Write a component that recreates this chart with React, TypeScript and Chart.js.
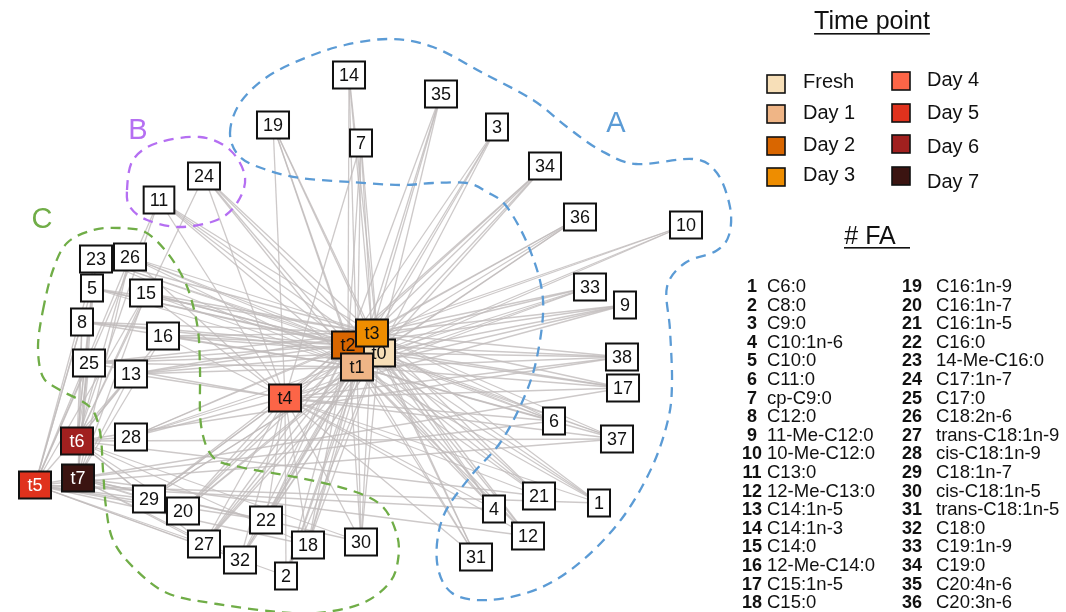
import React, { useEffect, useRef } from "react";
import { Chart, registerables } from "chart.js";

Chart.register(...registerables);

// ---- Fatty-acid nodes (label, layout x, layout y) ----
const faLabels = [
  "1", "2", "3", "4", "5", "6", "7", "8", "9", "10", "11", "12", "13", "14", "15", "16", "17", "18", "19",
  "20", "21", "22", "23", "24", "25", "26", "27", "28", "29", "30", "31", "32", "33", "34", "35", "36", "37", "38",
];
const faX = [
  599, 286, 497, 494, 92, 554, 361, 82, 625, 686, 159, 528, 131, 349, 146, 163, 623, 308, 273,
  183, 539, 266, 96, 204, 89, 130, 204, 131, 149, 361, 476, 240, 590, 545, 441, 580, 617, 622,
];
const faY = [
  503, 576, 127, 509, 288, 421, 143, 322, 305, 225, 200, 536, 374, 75, 293, 336, 388, 545, 125,
  511, 496, 520, 259, 176, 363, 257, 544, 437, 499, 542, 557, 560, 287, 166, 94, 217, 439, 357,
];

// ---- Time-point nodes ----
const timeLabels = ["t0", "t1", "t2", "t3", "t4", "t5", "t6", "t7"];
const timeX = [379, 357, 348, 372, 285, 35, 77, 78];
const timeY = [353, 367, 345, 333, 398, 485, 441, 478];
const timeColors = ["#f7dfb8", "#efb586", "#d96600", "#ee8d00", "#fc6547", "#e0321d", "#a1201f", "#3b1411"];
const timeTextColors = ["#111", "#111", "#111", "#111", "#111", "#fff", "#fff", "#fff"];
const timeDrawOrder = [4, 5, 6, 7, 0, 2, 1, 3];
const legendNames = ["Fresh", "Day 1", "Day 2", "Day 3", "Day 4", "Day 5", "Day 6", "Day 7"];

// ---- Links: time-point indices each fatty acid is connected to ----
const faLinks = [
  [0, 1, 2, 3, 4, 5], [0, 1, 2, 3, 4, 5], [0, 1, 2, 3], [0, 1, 2, 3, 4, 5], [0, 1, 2, 3, 5, 6, 7],
  [0, 1, 2, 3, 4, 7], [0, 1, 2, 3, 4], [0, 1, 2, 3, 5, 6, 7], [0, 1, 2, 3, 4], [0, 1, 2, 3],
  [0, 1, 2, 3, 4, 5, 6], [0, 1, 2, 3, 4, 7], [0, 1, 2, 3, 4, 5, 6, 7], [0, 1, 2, 3], [0, 1, 2, 3, 4, 5, 6, 7],
  [0, 1, 2, 3, 4, 6, 7], [0, 1, 2, 3, 4, 5], [0, 1, 2, 3, 4, 5, 6], [0, 1, 2, 3, 4], [0, 1, 2, 3, 4, 5, 6, 7],
  [0, 1, 2, 3, 4, 6], [0, 1, 2, 3, 4, 5, 7], [0, 1, 2, 3, 5, 6, 7], [0, 1, 2, 3, 4, 6], [0, 1, 2, 3, 4, 5, 6, 7],
  [0, 1, 2, 3, 4, 5, 6, 7], [0, 1, 2, 3, 4, 5, 6, 7], [0, 1, 2, 3, 4, 6], [0, 1, 2, 3, 4, 5, 6, 7], [0, 1, 2, 3, 4, 6, 7],
  [0, 1, 2, 3, 4], [0, 1, 2, 3, 4, 5, 7], [0, 1, 2, 3, 4], [0, 1, 2, 3, 4], [0, 1, 2, 3],
  [0, 1, 2, 3, 4], [0, 1, 2, 3, 4, 5, 6], [0, 1, 2, 3, 4, 6],
];

// ---- Fatty-acid key ----
const faNames = [
  "C6:0", "C8:0", "C9:0", "C10:1n-6", "C10:0", "C11:0", "cp-C9:0", "C12:0", "11-Me-C12:0",
  "10-Me-C12:0", "C13:0", "12-Me-C13:0", "C14:1n-5", "C14:1n-3", "C14:0", "12-Me-C14:0", "C15:1n-5", "C15:0",
  "C16:1n-9", "C16:1n-7", "C16:1n-5", "C16:0", "14-Me-C16:0", "C17:1n-7", "C17:0", "C18:2n-6", "trans-C18:1n-9",
  "cis-C18:1n-9", "C18:1n-7", "cis-C18:1n-5", "trans-C18:1n-5", "C18:0", "C19:1n-9", "C19:0", "C20:4n-6", "C20:3n-6",
];

// ---- Cluster outlines (layout coordinates) ----
const clusterA = [
  [230, 133], [240, 103], [267, 77], [305, 58], [345, 45], [390, 39], [433, 47], [483, 73], [533, 100],
  [567, 127], [600, 150], [636, 164], [693, 159], [717, 173], [730, 207], [729, 235], [716, 251],
  [685, 263], [667, 287], [670, 330], [672, 383], [668, 420], [652, 467], [623, 517], [583, 560],
  [540, 588], [490, 600], [452, 593], [437, 562], [443, 517], [470, 477], [500, 443], [523, 400],
  [537, 357], [543, 300], [530, 250], [507, 207], [487, 192], [467, 183], [433, 183], [400, 185],
  [350, 182], [300, 178], [267, 170], [240, 157],
];
const clusterB = [
  [127, 190], [133, 160], [157, 143], [200, 137], [230, 150], [245, 177], [237, 203], [217, 220],
  [180, 227], [147, 220], [130, 207],
];
const clusterC = [
  [43, 310], [53, 270], [67, 243], [93, 230], [120, 228], [145, 232], [165, 250], [180, 272], [190, 295],
  [198, 330], [200, 370], [201, 425], [213, 457], [240, 467], [300, 478], [350, 490], [382, 506],
  [397, 535], [398, 560], [390, 582], [367, 601], [333, 611], [290, 613], [217, 604], [167, 593],
  [133, 567], [113, 540], [106, 507], [103, 470], [100, 432], [90, 407], [60, 390], [43, 377], [38, 347],
];
const clusterNames = ["A", "B", "C"];
const clusterColors = ["#5b9bd5", "#b56ff2", "#70ad47"];
const clusterLabelPos = [[616, 124], [138, 131], [42, 220]];

const FONT = "'Liberation Sans', Arial, sans-serif";

function smoothClosed(ctx: CanvasRenderingContext2D, pts: number[][]) {
  const n = pts.length;
  ctx.beginPath();
  ctx.moveTo(pts[0][0], pts[0][1]);
  for (let i = 0; i < n; i++) {
    const p0 = pts[(i - 1 + n) % n];
    const p1 = pts[i];
    const p2 = pts[(i + 1) % n];
    const p3 = pts[(i + 2) % n];
    const c1x = p1[0] + (p2[0] - p0[0]) / 6;
    const c1y = p1[1] + (p2[1] - p0[1]) / 6;
    const c2x = p2[0] - (p3[0] - p1[0]) / 6;
    const c2y = p2[1] - (p3[1] - p1[1]) / 6;
    ctx.bezierCurveTo(c1x, c1y, c2x, c2y, p2[0], p2[1]);
  }
  ctx.closePath();
}

function drawBox(ctx: CanvasRenderingContext2D, x: number, y: number, text: string, fill: string, color: string, minW: number) {
  ctx.font = `18px ${FONT}`;
  const tw = ctx.measureText(text).width;
  const w = Math.max(minW, tw + 12);
  const h = 27;
  ctx.fillStyle = fill;
  ctx.fillRect(x - w / 2, y - h / 2, w, h);
  ctx.lineWidth = 2;
  ctx.strokeStyle = "#111";
  ctx.strokeRect(x - w / 2, y - h / 2, w, h);
  ctx.fillStyle = color;
  ctx.textAlign = "center";
  ctx.textBaseline = "middle";
  ctx.fillText(text, x, y + 1);
}

const networkPlugin = {
  id: "network",
  beforeDatasetsDraw(chart: any) {
    const ctx: CanvasRenderingContext2D = chart.ctx;
    const xs = chart.scales.x;
    const ys = chart.scales.y;
    const faMeta = chart.getDatasetMeta(0).data;
    const tMeta = chart.getDatasetMeta(1).data;
    ctx.save();
    // edges
    ctx.strokeStyle = "rgba(192,188,188,0.8)";
    ctx.lineWidth = 1.3;
    faLinks.forEach((links, i) => {
      links.forEach((t) => {
        ctx.beginPath();
        ctx.moveTo(faMeta[i].x, faMeta[i].y);
        ctx.lineTo(tMeta[t].x, tMeta[t].y);
        ctx.stroke();
      });
    });
    // cluster outlines
    [clusterA, clusterB, clusterC].forEach((poly, k) => {
      const pts = poly.map(([px, py]) => [xs.getPixelForValue(px), ys.getPixelForValue(py)]);
      ctx.setLineDash([10, 7]);
      ctx.lineWidth = 2.3;
      ctx.strokeStyle = clusterColors[k];
      smoothClosed(ctx, pts);
      ctx.stroke();
      ctx.setLineDash([]);
      ctx.fillStyle = clusterColors[k];
      ctx.font = `29px ${FONT}`;
      ctx.textAlign = "center";
      ctx.textBaseline = "middle";
      ctx.fillText(
        clusterNames[k],
        xs.getPixelForValue(clusterLabelPos[k][0]),
        ys.getPixelForValue(clusterLabelPos[k][1])
      );
    });
    ctx.restore();
  },
  afterDatasetsDraw(chart: any) {
    const ctx: CanvasRenderingContext2D = chart.ctx;
    const faMeta = chart.getDatasetMeta(0).data;
    const tMeta = chart.getDatasetMeta(1).data;
    ctx.save();
    faLabels.forEach((lab, i) => drawBox(ctx, faMeta[i].x, faMeta[i].y, lab, "#fff", "#111", 22));
    timeDrawOrder.forEach((i) => drawBox(ctx, tMeta[i].x, tMeta[i].y, timeLabels[i], timeColors[i], timeTextColors[i], 32));

    // legend: time points
    ctx.fillStyle = "#111";
    ctx.textBaseline = "middle";
    ctx.textAlign = "center";
    ctx.font = `25px ${FONT}`;
    ctx.fillText("Time point", 872, 22);
    const w = ctx.measureText("Time point").width;
    ctx.fillRect(872 - w / 2, 33, w, 1.6);
    ctx.fillText("# FA", 870, 237);
    ctx.fillRect(844, 247, 66, 1.6);

    const swY1 = [84, 114, 146, 177];
    const txY1 = [82, 113, 145, 175];
    const swY2 = [81, 113, 144, 176];
    const txY2 = [80, 113, 147, 182];
    ctx.font = `20px ${FONT}`;
    ctx.textAlign = "left";
    for (let i = 0; i < 8; i++) {
      const col = i < 4 ? 0 : 1;
      const r = i % 4;
      const sx = col ? 901 : 776;
      const sy = col ? swY2[r] : swY1[r];
      ctx.fillStyle = timeColors[i];
      ctx.fillRect(sx - 9, sy - 9, 18, 18);
      ctx.lineWidth = 1.6;
      ctx.strokeStyle = "#111";
      ctx.strokeRect(sx - 9, sy - 9, 18, 18);
      ctx.fillStyle = "#111";
      ctx.fillText(legendNames[i], col ? 927 : 803, col ? txY2[r] : txY1[r]);
    }

    // fatty-acid key
    faNames.forEach((name, i) => {
      const col = i < 18 ? 0 : 1;
      const r = i % 18;
      const y = 287 + r * 18.6;
      ctx.font = `bold 18px ${FONT}`;
      ctx.textAlign = "center";
      ctx.fillStyle = "#111";
      ctx.fillText(String(i + 1), col ? 912 : 752, y);
      ctx.font = `18.5px ${FONT}`;
      ctx.textAlign = "left";
      ctx.fillText(name, col ? 936 : 767, y);
    });
    ctx.restore();
  },
};

export default function App() {
  const ref = useRef<HTMLCanvasElement>(null);
  useEffect(() => {
    if (!ref.current) return;
    const chart = new Chart(ref.current, {
      type: "scatter",
      data: {
        datasets: [
          {
            label: "FA",
            data: faLabels.map((_, i) => ({ x: faX[i], y: faY[i] })),
            pointRadius: 0,
          },
          {
            label: "Time",
            data: timeLabels.map((_, i) => ({ x: timeX[i], y: timeY[i] })),
            pointRadius: 0,
          },
        ],
      },
      options: {
        responsive: false,
        animation: false,
        layout: { padding: 0 },
        plugins: { legend: { display: false }, tooltip: { enabled: false } },
        scales: {
          x: { type: "linear", min: 0, max: 1066, display: false },
          y: { type: "linear", min: 0, max: 612, reverse: true, display: false },
        },
      },
      plugins: [networkPlugin],
    });
    return () => chart.destroy();
  }, []);
  return (
    <div style={{ position: "fixed", left: 0, top: 0, width: 1066, height: 612, background: "#fff" }}>
      <canvas ref={ref} width={1066} height={612} />
    </div>
  );
}
